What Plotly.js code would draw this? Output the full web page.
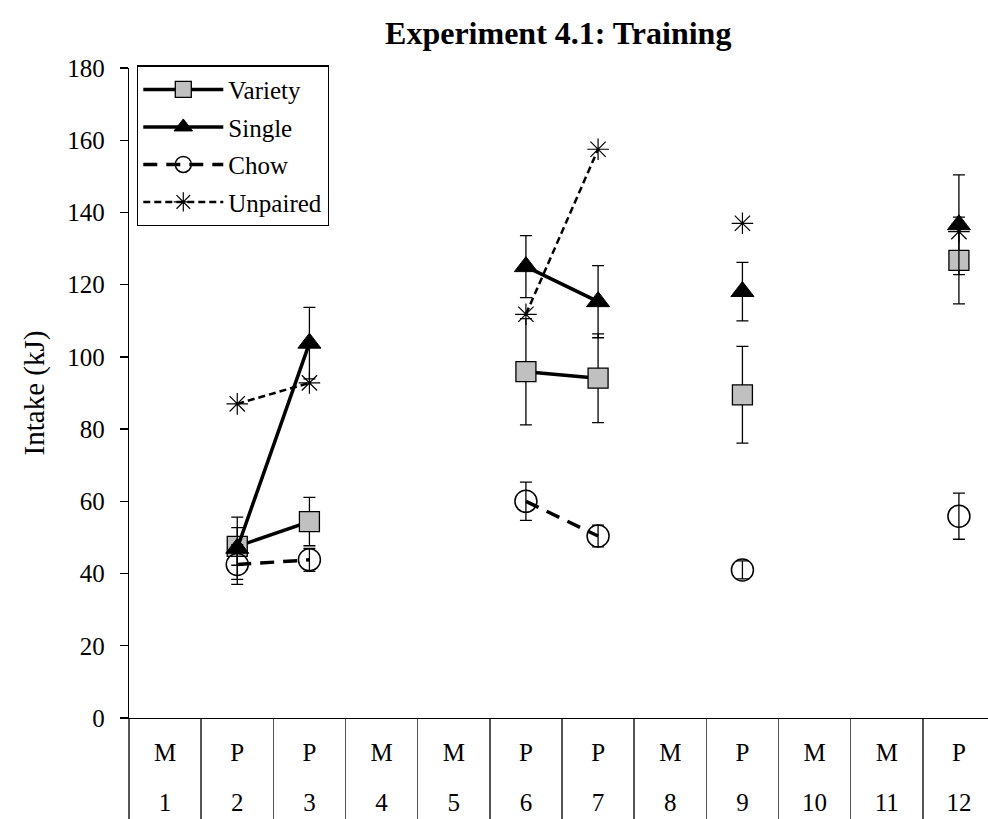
<!DOCTYPE html>
<html>
<head>
<meta charset="utf-8">
<script src="https://cdn.plot.ly/plotly-3.0.1.min.js"></script>
<style>html,body{margin:0;padding:0;background:#fff;}#chart{width:988px;height:819px;}</style>
</head>
<body>
<div id="chart"></div>
<script>
// ---- data ----
const sessions = [1, 2, 3, 4, 5, 6, 7, 8, 9, 10, 11, 12];
const sessionType = ['M', 'P', 'P', 'M', 'M', 'P', 'P', 'M', 'P', 'M', 'M', 'P'];

const variety    = [null, 47.5, 54.4, null, null, 95.9, 94.1, null, 89.5, null, null, 126.7];
const varietyErr = [null, 5.2, 6.7, null, null, 14.7, 12.3, null, 13.4, null, null, 12.0];

const single     = [null, 47.0, 103.8, null, null, 125.0, 115.3, null, 118.1, null, null, 136.6];
const singleErr  = [null, 8.6, 9.9, null, null, 8.6, 10.0, null, 8.1, null, null, 13.8];

const chow       = [null, 42.5, 43.8, null, null, 60.0, 50.4, null, 41.0, null, null, 55.9];
const chowErr    = [null, 5.5, 3.2, null, null, 5.3, 3.0, null, 2.5, null, null, 6.4];

const unpaired   = [null, 87.0, 92.8, null, null, 111.8, 157.5, null, 137.0, null, null, 134.7];

const yTicks = [0, 20, 40, 60, 80, 100, 120, 140, 160, 180];

// ---- styling ----
const FONT = 'Liberation Serif, Times New Roman, serif';
const errStyle = (arr) => ({type: 'data', array: arr, visible: true, color: '#000', thickness: 1.3, width: 6});

const traces = [
  {
    name: 'Variety', x: sessions, y: variety, type: 'scatter', mode: 'lines+markers',
    connectgaps: false, cliponaxis: false, legendgroup: 'a',
    line: {color: '#000', width: 3.5},
    marker: {symbol: 'square', size: 20, color: '#c0c0c0', line: {color: '#000', width: 1.3}},
    error_y: errStyle(varietyErr)
  },
  {
    name: 'Single', x: sessions, y: single, type: 'scatter', mode: 'lines+markers',
    connectgaps: false, cliponaxis: false, legendgroup: 'b',
    line: {color: '#000', width: 3.5},
    marker: {symbol: 'triangle-up', size: 20, color: '#000', line: {color: '#000', width: 1}},
    error_y: errStyle(singleErr)
  },
  {
    name: 'Chow', x: sessions, y: chow, type: 'scatter', mode: 'lines+markers',
    connectgaps: false, cliponaxis: false, legendgroup: 'c',
    line: {color: '#000', width: 3.5, dash: '14px,9px'},
    marker: {symbol: 'circle-open', size: 22, color: '#000', line: {color: '#000', width: 1.5}},
    error_y: errStyle(chowErr)
  },
  {
    name: 'Unpaired', x: sessions, y: unpaired, type: 'scatter', mode: 'lines+markers',
    xaxis: 'x2', yaxis: 'y',
    connectgaps: false, cliponaxis: false, legendgroup: 'd',
    line: {color: '#000', width: 2.5, dash: '7px,4px'},
    marker: {symbol: 'asterisk-open', size: 18, color: '#000', line: {color: '#000', width: 1.2}}
  }
];

const boundaries = sessions.map(s => s - 0.5).concat([sessions[sessions.length - 1] + 0.5]);
const xRange = [0.5, 12.403];

const layout = {
  width: 988, height: 819,
  paper_bgcolor: '#fff', plot_bgcolor: '#fff',
  margin: {l: 129, r: 0, t: 68, b: 101, pad: 0},
  font: {family: FONT, size: 25, color: '#000'},
  showlegend: true,
  title: {
    text: '<b>Experiment 4.1: Training</b>',
    font: {family: FONT, size: 32, color: '#000'},
    xref: 'container', x: 0.565, xanchor: 'center',
    yref: 'container', y: 0.96, yanchor: 'middle'
  },
  xaxis: {
    type: 'linear', range: xRange,
    tickmode: 'array', tickvals: sessions, ticktext: sessionType,
    ticks: '', showgrid: false, zeroline: false,
    showline: true, linecolor: '#000', linewidth: 1.3,
    tickfont: {family: FONT, size: 25, color: '#000'},
    ticklabelstandoff: 12,
    minor: {tickmode: 'array', tickvals: boundaries, ticks: 'outside', ticklen: 101, tickcolor: '#555', tickwidth: 1.5, showgrid: false}
  },
  xaxis2: {
    overlaying: 'x', anchor: 'y', side: 'bottom', type: 'linear', range: xRange,
    tickmode: 'array', tickvals: sessions, ticktext: sessions.map(String),
    ticks: '', showgrid: false, zeroline: false, showline: false,
    tickfont: {family: FONT, size: 25, color: '#000'},
    ticklabelstandoff: 67
  },
  yaxis: {
    range: [0, 180], tickmode: 'array', tickvals: yTicks,
    ticks: 'outside', ticklen: 8, tickcolor: '#000', tickwidth: 1.3,
    showgrid: false, zeroline: false,
    showline: true, linecolor: '#000', linewidth: 1.3,
    tickfont: {family: FONT, size: 25, color: '#000'},
    ticklabelstandoff: 10,
    title: {text: 'Intake (kJ)', font: {family: FONT, size: 29, color: '#000'}, standoff: 14}
  },
  legend: {
    x: 0.0093, y: 1.004, xanchor: 'left', yanchor: 'top',
    bgcolor: '#fff', bordercolor: '#000', borderwidth: 1.3,
    font: {family: FONT, size: 25, color: '#000'},
    itemwidth: 80, tracegroupgap: 2, itemsizing: 'trace',
    entrywidthmode: 'pixels', entrywidth: 110
  }
};

Plotly.newPlot('chart', traces, layout, {displayModeBar: false, staticPlot: true});
</script>
</body>
</html>
